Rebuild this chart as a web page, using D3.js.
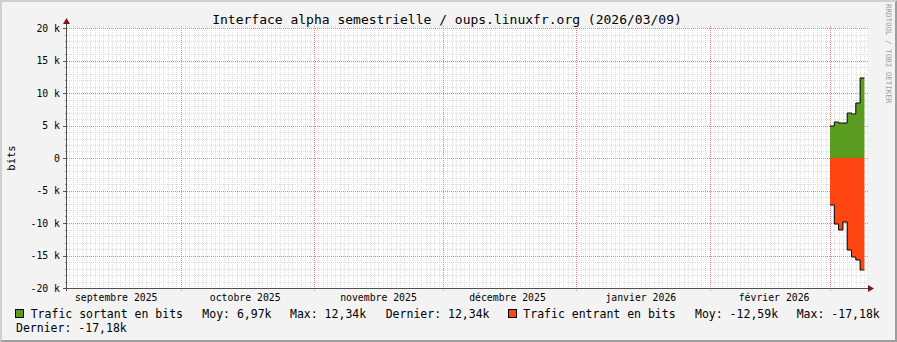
<!DOCTYPE html>
<meta charset="utf-8">
<title>Interface alpha semestrielle</title>
<style>
    body { margin: 0; background: #fff; }
    svg text { font-family: "DejaVu Sans Mono", monospace; fill: #000; }
</style>
<body>
</body>
<script src="https://d3js.org/d3.v7.min.js"></script>
<script>
    const width = 897, height = 342;

    // data: daily bins (start of each bin), bits/s
    const binStarts = ["2026-03-01", "2026-03-02", "2026-03-03", "2026-03-04",
                       "2026-03-05", "2026-03-06", "2026-03-07", "2026-03-08"];
    const binEnd = "2026-03-09";
    const trafficOut = [4920, 5490, 5380, 5380, 6870, 6720, 8460, 12340];
    const trafficIn = [-7230, -10150, -11080, -9850, -14150, -15180, -15690, -17180];

    const yTicks = [-20000, -15000, -10000, -5000, 0, 5000, 10000, 15000, 20000];
    const yTickLabels = ["-20 k", "-15 k", "-10 k", "-5 k", "0", "5 k", "10 k", "15 k", "20 k"];
    const monthNames = ["janvier", "février", "mars", "avril", "mai", "juin", "juillet",
                        "août", "septembre", "octobre", "novembre", "décembre"];

    const title = "Interface alpha semestrielle / oups.linuxfr.org (2026/03/09)";
    const legendNames = ["Trafic sortant en bits", "Trafic entrant en bits"];
    const legendColors = ["#5a9c1f", "#ff4612"];
    const statsOut = ["Moy: 6,97k", "Max: 12,34k", "Dernier: 12,34k"];
    const statsIn = ["Moy: -12,59k", "Max: -17,18k", "Dernier: -17,18k"];

    const tStart = new Date("2025-09-04T13:24:00Z");
    const tEnd = new Date("2026-03-09T14:31:00Z");

    const x0 = 67, x1 = 867, yTop = 28, yBot = 288;

    const x = d3.scaleUtc().domain([tStart, tEnd]).range([x0, x1]);
    const y = d3.scaleLinear().domain([-20000, 20000]).range([yBot, yTop]);
    const px = v => Math.round(v) + 0.5;

    const svg = d3.select("body").append("svg")
        .attr("width", width).attr("height", height);

    // background + shaded frame
    svg.append("rect").attr("width", width).attr("height", height).attr("fill", "#f3f3f3");
    svg.append("path").attr("fill", "#cfcfcf")
        .attr("d", `M0,0H${width}L${width - 2},2H2V${height - 2}L0,${height}Z`);
    svg.append("path").attr("fill", "#9e9e9e")
        .attr("d", `M${width},0V${height}H0L2,${height - 2}H${width - 2}V2Z`);

    // canvas
    svg.append("rect").attr("x", x0).attr("y", yTop)
        .attr("width", x1 - x0).attr("height", yBot - yTop).attr("fill", "#fff");

    const grid = svg.append("g").attr("fill", "none");

    // minor grid: days and 1k
    const months = d3.utcMonth.range(tStart, tEnd);
    const days = d3.utcDay.range(tStart, tEnd).filter(d => d.getUTCDate() !== 1);
    grid.selectAll(".vmin").data(days).join("line")
        .attr("x1", d => px(x(d))).attr("x2", d => px(x(d)))
        .attr("y1", yTop - 2).attr("y2", yBot + 2)
        .attr("stroke", "#dcdcdc").attr("stroke-dasharray", "1,1");
    const minorY = d3.range(-20000, 20001, 1000).filter(v => v % 5000 !== 0);
    grid.selectAll(".hmin").data(minorY).join("line")
        .attr("x1", x0 - 2).attr("x2", x1 + 2)
        .attr("y1", d => px(y(d))).attr("y2", d => px(y(d)))
        .attr("stroke", "#dcdcdc").attr("stroke-dasharray", "1,1");
    grid.selectAll(".hmint").data(minorY).join("line")
        .attr("x1", x0 - 2).attr("x2", x0)
        .attr("y1", d => px(y(d))).attr("y2", d => px(y(d)))
        .attr("stroke", "#999");

    // major grid: months and 5k
    grid.selectAll(".vmaj").data(months).join("line")
        .attr("x1", d => px(x(d))).attr("x2", d => px(x(d)))
        .attr("y1", yTop - 2).attr("y2", yBot + 3)
        .attr("stroke", "#f08080").attr("stroke-dasharray", "1,1");
    grid.selectAll(".hmaj").data(yTicks).join("line")
        .attr("x1", x0 - 2).attr("x2", x1 + 2)
        .attr("y1", d => px(y(d))).attr("y2", d => px(y(d)))
        .attr("stroke", "#f08080").attr("stroke-dasharray", "1,1");
    grid.selectAll(".hmajt").data(yTicks).join("line")
        .attr("x1", x0 - 4).attr("x2", x0)
        .attr("y1", d => px(y(d))).attr("y2", d => px(y(d)))
        .attr("stroke", "#555");

    // data
    const pts = i => binStarts.map((d, k) => ({ t: new Date(d + "T00:00:00Z"), v: i[k] }))
        .concat([{ t: new Date(binEnd + "T00:00:00Z"), v: i[i.length - 1] }]);
    const outPts = pts(trafficOut), inPts = pts(trafficIn);

    const area = d3.area().curve(d3.curveStepAfter)
        .x(d => x(d.t)).y0(y(0)).y1(d => y(d.v));
    const line = d3.line().curve(d3.curveStepAfter)
        .x(d => x(d.t)).y(d => px(y(d.v)) - 0.5);

    svg.append("path").datum(outPts).attr("d", area).attr("fill", legendColors[0]);
    svg.append("path").datum(inPts).attr("d", area).attr("fill", legendColors[1]);
    svg.append("path").datum(outPts).attr("d", line)
        .attr("fill", "none").attr("stroke", "#000").attr("stroke-width", 1);
    svg.append("path").datum(inPts).attr("d", line)
        .attr("fill", "none").attr("stroke", "#000").attr("stroke-width", 1);

    // axes
    svg.append("line").attr("x1", x0 - 3).attr("x2", x1 + 1)
        .attr("y1", px(yBot)).attr("y2", px(yBot)).attr("stroke", "#505050");
    svg.append("line").attr("x1", px(x0) - 1).attr("x2", px(x0) - 1)
        .attr("y1", yBot + 3).attr("y2", yTop - 5).attr("stroke", "#505050");
    svg.append("path").attr("fill", "#7f1414")
        .attr("d", `M${x1 + 1},${yBot - 3}L${x1 + 7},${yBot + 0.5}L${x1 + 1},${yBot + 4}Z`);
    svg.append("path").attr("fill", "#7f1414")
        .attr("d", `M${x0 - 4},${yTop - 4}L${x0 - 0.5},${yTop - 10}L${x0 + 3},${yTop - 4}Z`);

    // y labels
    svg.append("g").selectAll("text").data(yTicks).join("text")
        .attr("x", 60).attr("y", d => y(d) + 3.7)
        .attr("text-anchor", "end").attr("font-size", "9.8px")
        .text((d, i) => yTickLabels[i]);

    // x labels: centred half a month after the month start
    const labelMonths = d3.utcMonth.range(d3.utcMonth.floor(tStart), tEnd)
        .filter(d => x(d3.utcDay.offset(d, 15)) < x1);
    svg.append("g").selectAll("text").data(labelMonths).join("text")
        .attr("x", d => x(d3.utcDay.offset(d, 15))).attr("y", 301)
        .attr("text-anchor", "middle").attr("font-size", "9.8px")
        .text(d => monthNames[d.getUTCMonth()] + " " + d.getUTCFullYear());

    // title, unit, watermark
    svg.append("text").attr("x", 447).attr("y", 24).attr("text-anchor", "middle")
        .attr("font-size", "13px").text(title);
    svg.append("text").attr("transform", "translate(15,158) rotate(-90)")
        .attr("text-anchor", "middle").attr("font-size", "10.5px").text("bits");
    svg.append("text").attr("transform", "translate(885.5,4) rotate(90)")
        .attr("font-size", "7.5px").style("fill", "#a0a0a0").text("RRDTOOL / TOBI OETIKER");

    // legend
    const lg = svg.append("g").attr("font-size", "11.5px");
    const squareX = [15, 508.3];
    const nameX = [30.7, 523.3];
    squareX.forEach((sx, i) => {
        lg.append("rect").attr("x", Math.round(sx) + 0.5).attr("y", 309.5)
            .attr("width", 8).attr("height", 8)
            .attr("fill", legendColors[i]).attr("stroke", "#000");
        lg.append("text").attr("x", nameX[i]).attr("y", 318).text(legendNames[i]);
    });
    const statPos = [[202.3, 318], [290, 318], [385.7, 318]];
    const statPosIn = [[695, 318], [796.7, 318], [16, 332]];
    statsOut.forEach((s, i) => lg.append("text")
        .attr("x", statPos[i][0]).attr("y", statPos[i][1]).text(s));
    statsIn.forEach((s, i) => lg.append("text")
        .attr("x", statPosIn[i][0]).attr("y", statPosIn[i][1]).text(s));
</script>
